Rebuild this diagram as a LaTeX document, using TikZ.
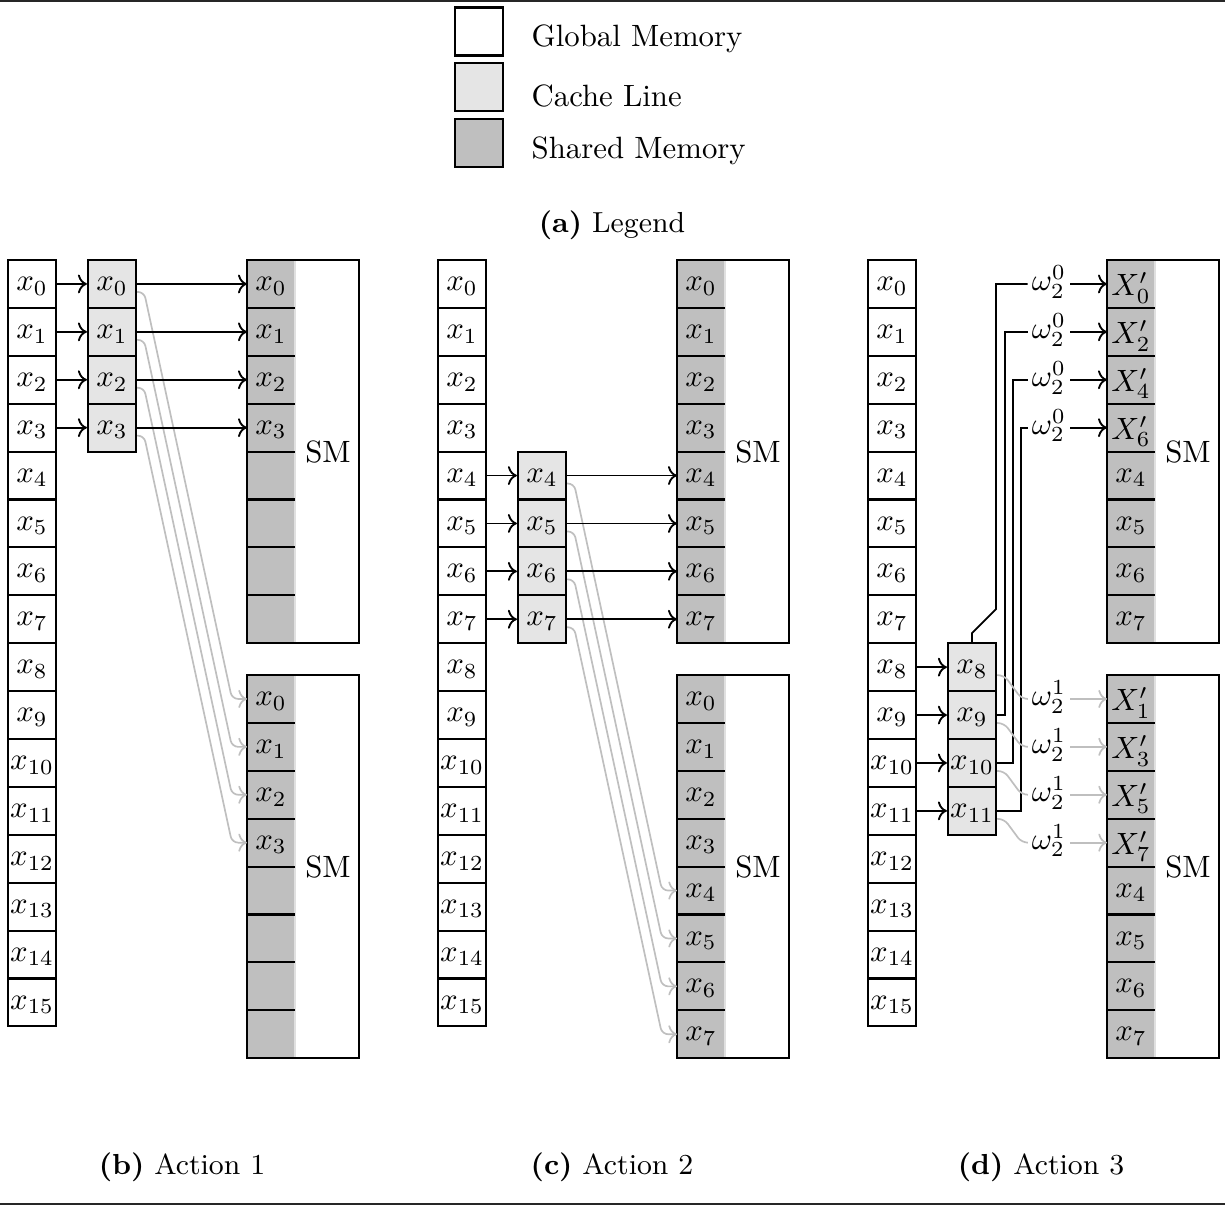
\documentclass[tikz,border=0pt]{standalone}
\usetikzlibrary{calc,arrows.meta}
\newlength\pxu
\setlength\pxu{0.3246pt}
\newcommand\smbox[4]{%
  \fill[black!25] (#2,#3) rectangle ++(48,383.2);
  \draw[black!12, line width=0.4pt] (#2+48,#3) -- ++(0,383.2);
  \foreach \k in {1,...,7} \draw[cellline] (#2,#3+47.9*\k) -- ++(48,0);
  \draw[cellline] (#2,#3) rectangle ++(112,383.2);
  \node (#1sm) at (#2+81,#3+191.6) {SM};
  \foreach \t [count=\k from 0] in {#4} \node[scell] (#1\k) at (#2+24,#3+23.95+47.9*\k) {\t};
}
\tikzset{
  cellline/.style={line width=0.7pt},
  gcell/.style={draw, line width=0.7pt, fill=white, minimum width=48\pxu, minimum height=47.9\pxu, inner sep=0pt, text depth=0pt},
  ccell/.style={gcell, fill=black!10},
  scell/.style={minimum width=48\pxu, minimum height=47.9\pxu, inner sep=0pt, outer sep=0pt, text depth=0pt},
  legbox/.style={draw, line width=0.7pt, minimum width=48\pxu, minimum height=48\pxu, inner sep=0pt},
  legtext/.style={anchor=base west, inner sep=0pt},
  capt/.style={anchor=base, inner sep=0pt, font=\fontsize{9.4}{11}\selectfont},
  wlab/.style={anchor=mid, inner sep=1.2pt},
  blkline/.style={line width=0.6pt},
  blk/.style={blkline, ->},
  gryline/.style={black!25, line width=0.55pt},
  gry/.style={gryline, ->},
}
\begin{document}
\begin{tikzpicture}[x=\pxu, y=-\pxu]
\useasboundingbox (0,0) rectangle (1225,1205);
\draw[line width=0.6pt, black!85] (0,1) -- (1225,1);
\draw[line width=0.6pt, black!85] (0,1204) -- (1225,1204);

% legend
\node[legbox, fill=white] (lg1) at (479,31.5) {};
\node[legtext] (lt1) at (531,47) {Global Memory};
\node[legbox, fill=black!10] (lg2) at (479,87) {};
\node[legtext] (lt2) at (531,107) {Cache Line};
\node[legbox, fill=black!25] (lg3) at (479,143) {};
\node[legtext] (lt3) at (531,159) {Shared Memory};
\node[capt] (capa) at (612,233) {\textbf{(a)} Legend};

% global memory columns
\foreach \p/\ox in {b/0,c/430,d/860}{
  \foreach \i in {0,...,15}
    \node[gcell] (\p-g\i) at (\ox+32, 283.95+47.9*\i) {$x_{\i}$};
}

% cache lines
\foreach \i in {0,...,3} \node[ccell] (b-c\i) at (112, 283.95+47.9*\i) {$x_{\i}$};
\foreach \i in {4,...,7} \node[ccell] (c-c\i) at (542, 283.95+47.9*\i) {$x_{\i}$};
\foreach \i in {8,...,11} \node[ccell] (d-c\i) at (972, 283.95+47.9*\i) {$x_{\i}$};

% shared memory
\smbox{b-s}{247}{260}{$x_0$,$x_1$,$x_2$,$x_3$,{},{},{},{}}
\smbox{b-t}{247}{675}{$x_0$,$x_1$,$x_2$,$x_3$,{},{},{},{}}
\smbox{c-s}{677}{260}{$x_0$,$x_1$,$x_2$,$x_3$,$x_4$,$x_5$,$x_6$,$x_7$}
\smbox{c-t}{677}{675}{$x_0$,$x_1$,$x_2$,$x_3$,$x_4$,$x_5$,$x_6$,$x_7$}
\smbox{d-s}{1107}{260}{$X'_0$,$X'_2$,$X'_4$,$X'_6$,$x_4$,$x_5$,$x_6$,$x_7$}
\smbox{d-t}{1107}{675}{$X'_1$,$X'_3$,$X'_5$,$X'_7$,$x_4$,$x_5$,$x_6$,$x_7$}

% panel b connectors
\foreach \i in {0,...,3}
  \draw[gry, rounded corners=2pt] ($(b-c\i.east)+(0,8)$) -- ++(7,0) -- ($(b-t\i.west)+(-15,0)$) -- (b-t\i.west);
\foreach \i in {0,...,3}{
  \draw[blk] (b-g\i.east) -- (b-c\i.west);
  \draw[blk] (b-c\i.east) -- (b-s\i.west);
}

% panel c connectors
\foreach \i in {4,...,7}
  \draw[gry, rounded corners=2pt] ($(c-c\i.east)+(0,8)$) -- ++(7,0) -- ($(c-t\i.west)+(-15,0)$) -- (c-t\i.west);
\foreach \i in {4,...,7}{
  \draw[blk] (c-g\i.east) -- (c-c\i.west);
  \draw[blk] (c-c\i.east) -- (c-s\i.west);
}

% panel d connectors
\foreach \i in {8,...,11} \draw[blk] (d-g\i.east) -- (d-c\i.west);
\foreach \k in {0,...,3}{
  \node[wlab] (d-w\k) at (1049, 283.95+47.9*\k) {$\omega_2^0$};
  \node[wlab] (d-v\k) at (1049, 698.95+47.9*\k) {$\omega_2^1$};
  \draw[blk] (d-w\k.mid east) -- (d-s\k.west);
  \draw[gry] (d-v\k.mid east) -- (d-t\k.west);
}
\draw[blkline] (d-c8.north) -- ++(0,-9) -- ++(24,-24) |- (d-w0.mid west);
\draw[blkline] (d-c9.east) -- ++(8,0) |- (d-w1.mid west);
\draw[blkline] (d-c10.east) -- ++(16,0) |- (d-w2.mid west);
\draw[blkline] (d-c11.east) -- ++(24,0) |- (d-w3.mid west);
\foreach \i/\k in {8/0,9/1,10/2,11/3}
  \draw[gryline, rounded corners=2pt] ($(d-c\i.east)+(0,8)$) -- ++(7,0) -- ($(d-v\k.mid west)+(-6,0)$) -- (d-v\k.mid west);

% captions
\node[capt] (capb) at (182,1174) {\textbf{(b)} Action 1};
\node[capt] (capc) at (612,1174) {\textbf{(c)} Action 2};
\node[capt] (capd) at (1041,1174) {\textbf{(d)} Action 3};
\end{tikzpicture}
\end{document}
